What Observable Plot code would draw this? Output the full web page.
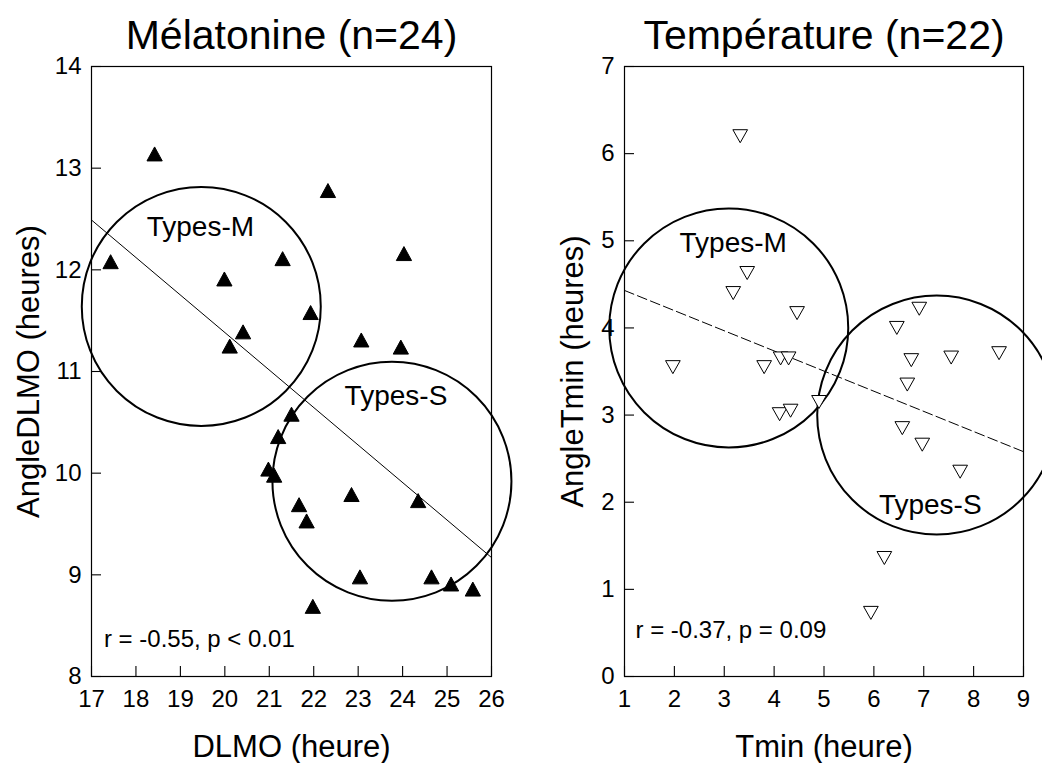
<!DOCTYPE html>
<html>
<head>
<meta charset="utf-8">
<script src="https://cdn.jsdelivr.net/npm/d3@7"></script>
<script src="https://cdn.jsdelivr.net/npm/@observablehq/plot@0.6"></script>
<style>
  html, body { margin: 0; padding: 0; background: #fff; }
  #wrap { position: relative; width: 1042px; height: 763px; overflow: hidden; background: #fff; }
  #left, #right { position: absolute; top: 0; }
  #left { left: 0; }
  #right { left: 521px; }
</style>
</head>
<body>
<div id="wrap"><div id="left"></div><div id="right"></div></div>
<script>
// ---------- Data: Mélatonine panel ----------
const melTitle = "Mélatonine (n=24)";
const melXLabel = "DLMO (heure)";
const melYLabel = "AngleDLMO (heures)";
const melXTicks = [17, 18, 19, 20, 21, 22, 23, 24, 25, 26];
const melYTicks = [8, 9, 10, 11, 12, 13, 14];
const melDLMO  = [18.42, 22.32, 17.43, 21.30, 24.03, 19.99, 21.93, 20.41, 20.11, 23.07, 23.96, 21.50,
                  21.20, 20.98, 21.11, 21.67, 21.84, 22.85, 24.35, 23.04, 24.65, 25.09, 25.58, 21.98];
const melAngle = [13.14, 12.78, 12.08, 12.11, 12.16, 11.91, 11.58, 11.39, 11.25, 11.31, 11.24, 10.58,
                  10.36, 10.04,  9.98,  9.69,  9.53,  9.79,  9.73,  8.98,  8.98,  8.91,  8.86,  8.69];
const melFitX = [17, 26];
const melFitY = [12.49, 9.17];
const melGroupNames = ["Types-M", "Types-S"];
const melCircleX = [19.47, 23.76];
const melCircleY = [11.64, 9.92];
const melGroupLabelX = [19.45, 23.85];
const melGroupLabelY = [12.33, 10.67];
const melStat = "r = -0.55, p < 0.01";
const melStatX = 17.28, melStatY = 8.29;

// ---------- Data: Température panel ----------
const tmpTitle = "Température (n=22)";
const tmpXLabel = "Tmin (heure)";
const tmpYLabel = "AngleTmin (heures)";
const tmpXTicks = [1, 2, 3, 4, 5, 6, 7, 8, 9];
const tmpYTicks = [0, 1, 2, 3, 4, 5, 6, 7];
const tmpTmin  = [3.32, 3.46, 3.18, 4.46, 6.91, 6.46, 1.97, 3.80, 4.13, 4.29, 6.75,
                  7.55, 8.51, 6.67, 4.11, 4.33, 4.90, 6.57, 6.97, 7.73, 6.21, 5.94];
const tmpAngle = [6.20, 4.63, 4.40, 4.17, 4.22, 4.00, 3.55, 3.55, 3.65, 3.65, 3.63,
                  3.66, 3.71, 3.35, 3.01, 3.05, 3.15, 2.85, 2.66, 2.35, 1.36, 0.73];
const tmpFitX = [1, 9];
const tmpFitY = [4.43, 2.58];
const tmpGroupNames = ["Types-M", "Types-S"];
const tmpCircleX = [3.09, 7.26];
const tmpCircleY = [4.00, 3.00];
const tmpGroupLabelX = [3.18, 7.13];
const tmpGroupLabelY = [4.87, 1.87];
const tmpStat = "r = -0.37, p = 0.09";
const tmpStatX = 1.22, tmpStatY = 0.44;

// ---------- Symbols (centered on their bounding box) ----------
const triUp = {
  draw(ctx, size) {
    const r = Math.sqrt(size / Math.PI), w = r * 1.09, h = r;
    ctx.moveTo(0, -h); ctx.lineTo(w, h); ctx.lineTo(-w, h); ctx.closePath();
  }
};
const triDown = {
  draw(ctx, size) {
    const r = Math.sqrt(size / Math.PI), w = r * 1.13, h = r;
    ctx.moveTo(0, h); ctx.lineTo(w, -h); ctx.lineTo(-w, -h); ctx.closePath();
  }
};

const FONT = "'Liberation Sans', Arial, Helvetica, sans-serif";

function panel(cfg) {
  const pts = cfg.xs.map((x, i) => ({x, y: cfg.ys[i]}));
  const fit = cfg.fitX.map((x, i) => ({x, y: cfg.fitY[i]}));
  const circles = cfg.groups.map((g, i) => ({x: cfg.cx[i], y: cfg.cy[i]}));
  const glabels = cfg.groups.map((g, i) => ({text: g, x: cfg.gx[i], y: cfg.gy[i]}));
  return Plot.plot({
    width: 521, height: 763,
    marginLeft: cfg.ml, marginRight: cfg.mr, marginTop: 66, marginBottom: 87,
    x: {domain: [cfg.xTicks[0], cfg.xTicks[cfg.xTicks.length - 1]]},
    y: {domain: [cfg.yTicks[0], cfg.yTicks[cfg.yTicks.length - 1]]},
    style: {fontFamily: FONT, fontSize: "24px", background: "transparent", color: "#000", overflow: "visible"},
    marks: [
      Plot.frame({stroke: "#000", strokeWidth: 1.2}),
      Plot.axisX({ticks: cfg.xTicks, tickFormat: d => String(d), tickSize: -10, tickPadding: 23, label: null, fontSize: 24, stroke: "#000", strokeWidth: 1.1}),
      Plot.axisY({ticks: cfg.yTicks, tickFormat: d => String(d), tickSize: -10, tickPadding: 20, label: null, fontSize: 24, stroke: "#000", strokeWidth: 1.1}),
      Plot.line(fit, {x: "x", y: "y", stroke: "#000", strokeWidth: 1, strokeDasharray: cfg.dash}),
      Plot.dot(circles, {x: "x", y: "y", r: 119.5, stroke: "#000", strokeWidth: 2, fill: "none"}),
      Plot.text(glabels, {x: "x", y: "y", text: "text", fontSize: 28, lineAnchor: "bottom", textAnchor: "middle", fill: "#000"}),
      Plot.text([cfg.stat], {x: () => cfg.statX, y: () => cfg.statY, text: d => d, fontSize: 24, lineAnchor: "bottom", textAnchor: "start", fill: "#000"}),
      Plot.dot(pts, {x: "x", y: "y", symbol: cfg.symbol, r: cfg.r, fill: cfg.fill, stroke: "#000", strokeWidth: 1}),
      Plot.text([cfg.title], {text: d => d, frameAnchor: "top", textAnchor: "middle", dy: -18, lineAnchor: "bottom", fontSize: 41, fill: "#000"}),
      Plot.text([cfg.xLabel], {text: d => d, frameAnchor: "bottom", textAnchor: "middle", dy: 80, lineAnchor: "bottom", fontSize: 31, fill: "#000"}),
      Plot.text([cfg.yLabel], {text: d => d, frameAnchor: "left", textAnchor: "middle", dx: cfg.ylDx, rotate: -90, lineAnchor: "bottom", fontSize: 31, fill: "#000"})
    ]
  });
}

document.getElementById("left").append(panel({
  xs: melDLMO, ys: melAngle, xTicks: melXTicks, yTicks: melYTicks,
  fitX: melFitX, fitY: melFitY, dash: null,
  groups: melGroupNames, cx: melCircleX, cy: melCircleY, gx: melGroupLabelX, gy: melGroupLabelY,
  stat: melStat, statX: melStatX, statY: melStatY,
  title: melTitle, xLabel: melXLabel, yLabel: melYLabel,
  symbol: triUp, r: 7, fill: "#000",
  ml: 91, mr: 30, ylDx: -53
}));

document.getElementById("right").append(panel({
  xs: tmpTmin, ys: tmpAngle, xTicks: tmpXTicks, yTicks: tmpYTicks,
  fitX: tmpFitX, fitY: tmpFitY, dash: "10,4",
  groups: tmpGroupNames, cx: tmpCircleX, cy: tmpCircleY, gx: tmpGroupLabelX, gy: tmpGroupLabelY,
  stat: tmpStat, statX: tmpStatX, statY: tmpStatY,
  title: tmpTitle, xLabel: tmpXLabel, yLabel: tmpYLabel,
  symbol: triDown, r: 6.5, fill: "#fff",
  ml: 103, mr: 19, ylDx: -42
}));
</script>
</body>
</html>
